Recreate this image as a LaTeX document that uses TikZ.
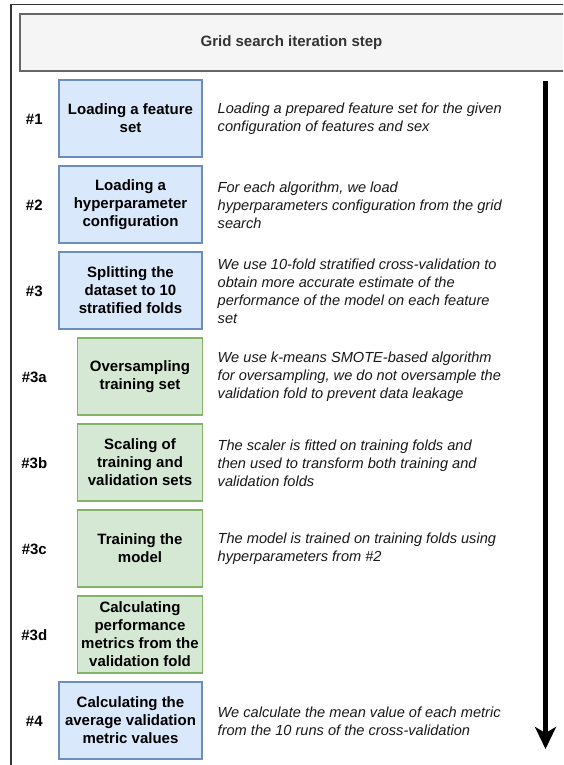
\documentclass[tikz,border=0pt]{standalone}
\usepackage{fontspec}
\setmainfont{Liberation Sans}
\usetikzlibrary{arrows.meta}
\definecolor{hdrfill}{HTML}{F5F5F5}
\definecolor{hdrdraw}{HTML}{666666}
\definecolor{hdrtext}{HTML}{333333}
\definecolor{framecol}{HTML}{333333}
\definecolor{bluefill}{HTML}{DAE8FC}
\definecolor{bluedraw}{HTML}{6C8EBF}
\definecolor{greenfill}{HTML}{D5E8D4}
\definecolor{greendraw}{HTML}{82B366}
\tikzset{
  boxtxt/.style={font={\fontsize{15}{18}\selectfont\bfseries}, align=center, inner sep=0pt, line width=1.1pt},
  bluebox/.style={boxtxt, fill=bluefill, draw=bluedraw, minimum width=143pt, minimum height=77pt},
  greenbox/.style={boxtxt, fill=greenfill, draw=greendraw, minimum width=124.5pt, minimum height=77pt},
  steplabel/.style={font={\fontsize{15}{18}\selectfont\bfseries}, inner sep=0pt},
  desc/.style={font={\fontsize{14.6}{18}\selectfont\itshape}, align=left, anchor=west, inner sep=0pt, text=black!90}
}
\begin{document}
\begin{tikzpicture}[x=1pt,y=-1pt]
\useasboundingbox (0,0) rectangle (563,765);
\clip (0,0) rectangle (563,765);
\fill[white] (0,0) rectangle (563,765);
% outer frame
\draw[framecol, line width=1.2pt] (11,4.3) rectangle (580,800);
% header
\node[draw=hdrdraw, fill=hdrfill, line width=1.2pt, minimum width=548pt, minimum height=57pt, inner sep=0pt,
      font={\fontsize{15}{18}\selectfont\bfseries}, text=hdrtext] (hdr) at (294,42.5) {\hspace*{-5pt}Grid search iteration step};
% boxes
\node[bluebox] (b1) at (130.5,118.5) {Loading a feature\\set};
\node[bluebox] (b2) at (130.5,204.5) {Loading a\\hyperparameter\\configuration};
\node[bluebox] (b3) at (130.5,290.5) {Splitting the\\dataset to 10\\stratified folds};
\node[greenbox] (b3a) at (140,376.5) {Oversampling\\training set};
\node[greenbox] (b3b) at (140,462.5) {Scaling of\\training and\\validation sets};
\node[greenbox] (b3c) at (140,548.5) {Training the\\model};
\node[greenbox] (b3d) at (140,634.5) {Calculating\\performance\\metrics from the\\validation fold};
\node[bluebox] (b4) at (130.5,720.5) {Calculating the\\average validation\\metric values};
% labels
\node[steplabel] (l1) at (34.3,119) {\#1};
\node[steplabel] (l2) at (34.3,205) {\#2};
\node[steplabel] (l3) at (34.3,291) {\#3};
\node[steplabel] (l3a) at (34.3,377) {\#3a};
\node[steplabel] (l3b) at (34.3,463) {\#3b};
\node[steplabel] (l3c) at (34.3,549) {\#3c};
\node[steplabel] (l3d) at (34.3,635) {\#3d};
\node[steplabel] (l4) at (34.3,721) {\#4};
% descriptions
\node[desc] (d1) at (217.5,119) {Loading a prepared feature set for the given\\configuration of features and sex};
\node[desc] (d2) at (217.5,205) {For each algorithm, we load\\hyperparameters configuration from the grid\\search};
\node[desc] (d3) at (217.5,291) {We use 10-fold stratified cross-validation to\\obtain more accurate estimate of the\\performance of the model on each feature\\set};
\node[desc] (d3a) at (217.5,377) {We use k-means SMOTE-based algorithm\\for oversampling, we do not oversample the\\validation fold to prevent data leakage};
\node[desc] (d3b) at (217.5,463) {The scaler is fitted on training folds and\\then used to transform both training and\\validation folds};
\node[desc] (d3c) at (217.5,549) {The model is trained on training folds using\\hyperparameters from \#2};
\node[desc] (d4) at (217.5,721) {We calculate the mean value of each metric\\from the 10 runs of the cross-validation};
% arrow
\coordinate (atop) at (545.5,80.7);
\coordinate (abot) at (545.5,749);
\draw[line width=4.4pt, -{Stealth[length=22pt,width=21pt,inset=6pt]}] (atop) -- (abot);
\end{tikzpicture}
\end{document}
